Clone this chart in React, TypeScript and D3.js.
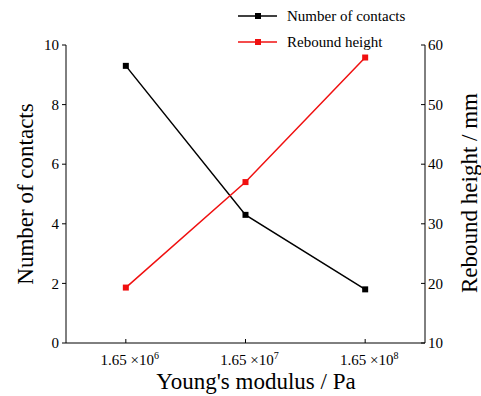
import React from 'react';
import * as d3 from 'd3';

const categories = ['6', '7', '8'];
const contacts = [9.3, 4.3, 1.8];
const rebound = [19.3, 37, 57.9];
const leftTicks = [0, 2, 4, 6, 8, 10];
const rightTicks = [10, 20, 30, 40, 50, 60];

const W = 481;
const H = 396;
const m = { left: 66, right: 425, top: 45, bottom: 343 };
const font = "'Times New Roman', Times, 'Liberation Serif', 'Noto Serif', 'DejaVu Serif', serif";

export default function App() {
  const x = d3.scalePoint<string>().domain(categories).range([m.left, m.right]).padding(0.5);
  const yL = d3.scaleLinear().domain([0, 10]).range([m.bottom, m.top]);
  const yR = d3.scaleLinear().domain([10, 60]).range([m.bottom, m.top]);

  const lineL = d3.line<number>().x((_, i) => x(categories[i])!).y(d => yL(d));
  const lineR = d3.line<number>().x((_, i) => x(categories[i])!).y(d => yR(d));

  return (
    <svg width={W} height={H} style={{ position: 'absolute', left: 0, top: 0, background: '#fff' }}>
      <g fontFamily={font}>
        {/* axes */}
        <line x1={m.left} x2={m.left} y1={m.top} y2={m.bottom} stroke="#000" />
        <line x1={m.right} x2={m.right} y1={m.top} y2={m.bottom} stroke="#000" />
        <line x1={m.left} x2={m.right} y1={m.bottom} y2={m.bottom} stroke="#000" />

        {leftTicks.map(t => (
          <g key={'l' + t}>
            <line x1={m.left - 4} x2={m.left} y1={yL(t)} y2={yL(t)} stroke="#000" />
            <text x={m.left - 7} y={yL(t)} dy="0.35em" textAnchor="end" fontSize={15}>{t}</text>
          </g>
        ))}
        {rightTicks.map(t => (
          <g key={'r' + t}>
            <line x1={m.right - 4} x2={m.right} y1={yR(t)} y2={yR(t)} stroke="#000" />
            <text x={m.right + 3} y={yR(t)} dy="0.35em" textAnchor="start" fontSize={15}>{t}</text>
          </g>
        ))}
        {categories.map(c => (
          <g key={'x' + c}>
            <line x1={x(c)} x2={x(c)} y1={m.bottom - 4} y2={m.bottom} stroke="#000" />
            <text x={x(c)! + 4} y={m.bottom + 22} textAnchor="middle" fontSize={15}>
              1.65 ×10<tspan fontSize={10} dy={-6}>{c}</tspan>
            </text>
          </g>
        ))}

        {/* series */}
        <path d={lineL(contacts)!} fill="none" stroke="#000" strokeWidth={1.5} />
        {contacts.map((v, i) => (
          <rect key={'c' + i} x={x(categories[i])! - 3} y={yL(v) - 3} width={6} height={6} fill="#000" />
        ))}
        <path d={lineR(rebound)!} fill="none" stroke="#f01010" strokeWidth={1.5} />
        {rebound.map((v, i) => (
          <rect key={'r' + i} x={x(categories[i])! - 3} y={yR(v) - 3} width={6} height={6} fill="#f01010" />
        ))}

        {/* legend */}
        <line x1={238} x2={277} y1={16} y2={16} stroke="#000" strokeWidth={1.5} />
        <rect x={255} y={13} width={6} height={6} fill="#000" />
        <text x={287} y={16} dy="0.35em" fontSize={15}>Number of contacts</text>
        <line x1={238} x2={277} y1={42} y2={42} stroke="#f01010" strokeWidth={1.5} />
        <rect x={255} y={39} width={6} height={6} fill="#f01010" />
        <text x={287} y={42} dy="0.35em" fontSize={15}>Rebound height</text>

        {/* titles */}
        <text x={256} y={389} textAnchor="middle" fontSize={23}>Young's modulus / Pa</text>
        <text transform="translate(33,194) rotate(-90)" textAnchor="middle" fontSize={23}>Number of contacts</text>
        <text transform="translate(477,193) rotate(-90)" textAnchor="middle" fontSize={23}>Rebound height / mm</text>
      </g>
    </svg>
  );
}
